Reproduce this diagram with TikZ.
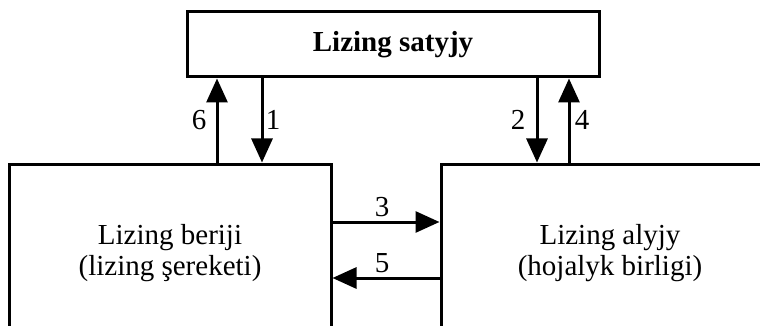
\documentclass[tikz,border=0pt]{standalone}
\usepackage{fontspec}
\setmainfont{Liberation Serif}
\usetikzlibrary{arrows.meta}
\begin{document}
\begin{tikzpicture}[x=1pt,y=-1pt,
  box/.style={draw,line width=3pt,inner sep=0pt,align=center,font=\fontsize{29}{31}\selectfont},
  arr/.style={line width=3pt,-{Triangle[length=24pt,width=21pt]}},
  lbl/.style={font=\fontsize{29}{31}\selectfont,inner sep=0pt}]
\useasboundingbox (0,0) rectangle (760,326);
\clip (0,0) rectangle (760,326);
\node[box,minimum width=412pt,minimum height=65pt] (sat) at (393,44.5) {\textbf{Lizing satyjy}};
\node[box,minimum width=322pt,minimum height=178pt] (ber) at (170,253) {Lizing beriji\\(lizing şereketi)};
\node[box,minimum width=338pt,minimum height=178pt] (aly) at (610,253) {Lizing alyjy\\(hojalyk birligi)};
\coordinate (c6) at (217,0);
\coordinate (c1) at (262,0);
\coordinate (c2) at (537,0);
\coordinate (c4) at (569,0);
\coordinate (c3) at (0,222);
\coordinate (c5) at (0,278);
\draw[arr] (c6 |- ber.north) -- (c6 |- sat.south);
\draw[arr] (c1 |- sat.south) -- (c1 |- ber.north);
\draw[arr] (c2 |- sat.south) -- (c2 |- aly.north);
\draw[arr] (c4 |- aly.north) -- (c4 |- sat.south);
\draw[arr] (ber.east |- c3) -- (aly.west |- c3);
\draw[arr] (aly.west |- c5) -- (ber.east |- c5);
\node[lbl] (l6) at (199,120) {6};
\node[lbl] (l1) at (273,120) {1};
\node[lbl] (l2) at (518,120) {2};
\node[lbl] (l4) at (582,120) {4};
\node[lbl] (l3) at (382,207) {3};
\node[lbl] (l5) at (382,263) {5};
\end{tikzpicture}
\end{document}
